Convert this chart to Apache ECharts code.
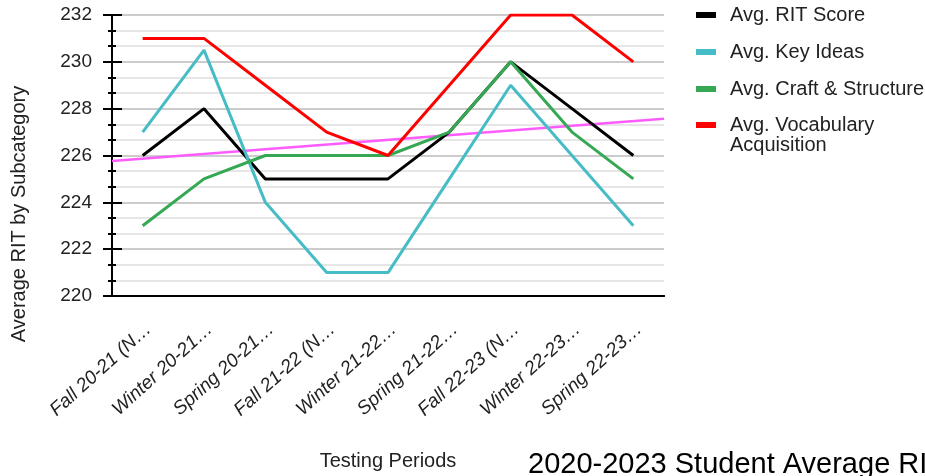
<!DOCTYPE html>
<html>
<head>
<meta charset="utf-8">
<script src="https://cdn.jsdelivr.net/npm/echarts@6/dist/echarts.min.js"></script>
<style>
html,body{margin:0;padding:0;background:#fff;}
#chart{width:925px;height:476px;}
</style>
</head>
<body>
<div id="chart"></div>
<script>
const categories = ['Fall 20-21 (N…', 'Winter 20-21…', 'Spring 20-21…', 'Fall 21-22 (N…', 'Winter 21-22…', 'Spring 21-22…', 'Fall 22-23 (N…', 'Winter 22-23…', 'Spring 22-23…'];
const ritScore = [226, 228, 225, 225, 225, 227, 230, 228, 226];
const keyIdeas = [227, 230.5, 224, 221, 221, 225, 229, 226, 223];
const craftStructure = [223, 225, 226, 226, 226, 227, 230, 227, 225];
const vocabulary = [231, 231, 229, 227, 226, 229, 232, 232, 230];
const seriesNames = ['Avg. RIT Score', 'Avg. Key Ideas', 'Avg. Craft & Structure', 'Avg. Vocabulary\nAcquisition'];
const yMin = 220, yMax = 232, yStep = 2;

// linear trendline of Avg. RIT Score (least squares)
const n = ritScore.length;
const mx = (n - 1) / 2;
const my = ritScore.reduce((a, b) => a + b, 0) / n;
let sxy = 0, sxx = 0;
ritScore.forEach((v, i) => { sxy += (i - mx) * (v - my); sxx += (i - mx) * (i - mx); });
const slope = sxy / sxx;
const trendAt = x => my + slope * (x - mx);
const trend = [[-0.5, trendAt(-0.5)], [n - 0.5, trendAt(n - 0.5)]];

const FONT = '"Liberation Sans", Arial, sans-serif';
const chart = echarts.init(document.getElementById('chart'), null, {renderer: 'canvas'});
const legendText = {fontSize: 20, color: '#222', fontFamily: FONT, lineHeight: 20, padding: [0, 0, 0, 9]};
chart.setOption({
  animation: false,
  textStyle: {fontFamily: FONT},
  title: {
    text: '2020-2023 Student Average RIT Scores',
    left: 523, top: 445,
    textStyle: {fontSize: 29, fontWeight: 'normal', color: '#000', fontFamily: FONT}
  },
  graphic: [{
    type: 'text', x: 19, y: 214, rotation: Math.PI / 2,
    style: {text: 'Average RIT by Subcategory', fontSize: 20, fill: '#222', fontFamily: FONT, align: 'center', verticalAlign: 'middle'}
  }],
  legend: [{
    orient: 'vertical', left: 696, top: 5, padding: 0,
    itemWidth: 20, itemHeight: 6, itemGap: 17, icon: 'rect',
    data: seriesNames.slice(0, 3),
    textStyle: legendText, selectedMode: false
  }, {
    orient: 'vertical', left: 696, top: 95, padding: 0,
    itemWidth: 20, itemHeight: 6, icon: 'rect',
    data: [seriesNames[3]],
    formatter: name => '\n' + name,
    textStyle: legendText, selectedMode: false
  }],
  grid: {left: 112, right: 261, top: 15, bottom: 179.5, containLabel: false},
  xAxis: [{
    type: 'category', data: categories, position: 'bottom', boundaryGap: true,
    axisLine: {onZero: false, lineStyle: {color: '#000', width: 2}},
    axisTick: {alignWithLabel: true, length: 10, lineStyle: {color: '#000', width: 2}},
    axisLabel: {rotate: 42, margin: 36, fontSize: 19, fontStyle: 'italic', color: '#222', fontFamily: FONT, interval: 0, padding: [0, -8, 0, 0]},
    splitLine: {show: false},
    name: 'Testing Periods', nameLocation: 'middle', nameGap: 155,
    nameTextStyle: {fontSize: 20, color: '#222', fontFamily: FONT}
  }, {
    type: 'category', data: categories, position: 'bottom', boundaryGap: true,
    axisLine: {onZero: false, lineStyle: {color: '#000', width: 2}},
    axisTick: {alignWithLabel: true, inside: true, length: 9, lineStyle: {color: '#000', width: 2}},
    axisLabel: {show: false}, splitLine: {show: false}
  }, {
    type: 'value', min: -0.5, max: n - 0.5, show: false, position: 'bottom',
    axisLine: {onZero: false}, splitLine: {show: false}
  }],
  yAxis: [{
    type: 'value', min: yMin, max: yMax, interval: yStep, position: 'left',
    axisLine: {show: true, onZero: false, lineStyle: {color: '#000', width: 2}},
    axisTick: {show: true, length: 9, lineStyle: {color: '#000', width: 2}},
    minorTick: {show: true, splitNumber: 3, length: 4, lineStyle: {color: '#000', width: 2}},
    axisLabel: {fontSize: 19, color: '#222', margin: 20, fontFamily: FONT},
    splitLine: {show: true, lineStyle: {color: '#cccccc', width: 2}},
    minorSplitLine: {show: true, lineStyle: {color: '#e6e6e6', width: 2}}
  }, {
    type: 'value', min: yMin, max: yMax, interval: yStep, position: 'left',
    axisLine: {show: true, onZero: false, lineStyle: {color: '#000', width: 2}},
    axisTick: {show: true, inside: true, length: 10, lineStyle: {color: '#000', width: 2}},
    minorTick: {show: true, splitNumber: 3, length: 4, lineStyle: {color: '#000', width: 2}},
    axisLabel: {show: false}, splitLine: {show: false}
  }],
  series: [{
    name: 'Trend', type: 'line', xAxisIndex: 2, yAxisIndex: 0, data: trend,
    showSymbol: false, lineStyle: {color: '#ff5cff', width: 2.5}, itemStyle: {color: '#ff5cff'}, z: 1, silent: true
  }, {
    name: seriesNames[0], type: 'line', data: ritScore, showSymbol: false,
    lineStyle: {color: '#000000', width: 3}, itemStyle: {color: '#000000'}, z: 2
  }, {
    name: seriesNames[1], type: 'line', data: keyIdeas, showSymbol: false,
    lineStyle: {color: '#46bdc6', width: 3}, itemStyle: {color: '#46bdc6'}, z: 3
  }, {
    name: seriesNames[2], type: 'line', data: craftStructure, showSymbol: false,
    lineStyle: {color: '#34a853', width: 3}, itemStyle: {color: '#34a853'}, z: 4
  }, {
    name: seriesNames[3], type: 'line', data: vocabulary, showSymbol: false,
    lineStyle: {color: '#ff0000', width: 3}, itemStyle: {color: '#ff0000'}, z: 5
  }]
});
</script>
</body>
</html>
